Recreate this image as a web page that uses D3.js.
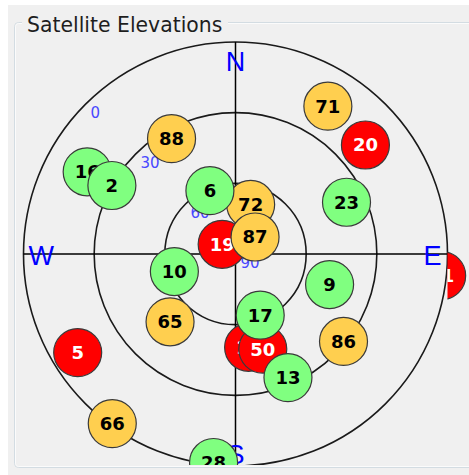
<!DOCTYPE html>
<html>
<head>
<meta charset="utf-8">
<script src="https://cdn.jsdelivr.net/npm/d3@7/dist/d3.min.js"></script>
<style>
  body { margin: 0; background: #fff; }
  svg { display: block; }
</style>
</head>
<body>
<div id="chart"></div>
<script>
// satellites, in drawing order (later ones sit on top)
const labels     = ['16', '2', '88', '71', '20', '23', '72', '6', '19', '87', '10', '65', '5', '66', '28', '9', '15', '50', '17', '13', '86', '21']
const azimuths   = [299, 299, 331, 32, 50, 65, 17, 338, 306, 49, 254, 224, 238, 216, 186, 108, 172, 164, 158, 157, 129, 96]
const elevations = [18, 30, 34, 16, 18, 38, 68, 61, 83, 79, 63, 50, 11, 1, 1, 48, 50, 48, 62, 33, 31, 2]
const states     = ['used', 'used', 'weak', 'weak', 'lost', 'used', 'weak', 'used', 'lost', 'weak', 'used', 'weak', 'lost', 'weak', 'used', 'used', 'lost', 'lost', 'used', 'used', 'weak', 'lost']

const rings = [0, 30, 60, 90]
const compass = ['N', 'E', 'S', 'W']
const title = 'Satellite Elevations'

const fills = {used: '#80ff80', weak: '#ffcf4f', lost: '#ff0000'}
const inks = {used: '#000', weak: '#000', lost: '#fff'}

const width = 469
const height = 475
const cx = 235.5
const cy = 254
const R = 212
const dot = 24

const svg = d3.select('#chart').append('svg')
  .attr('width', width)
  .attr('height', height)

// window panel + group box
svg.append('rect')
  .attr('x', 8).attr('y', 5)
  .attr('width', width - 8).attr('height', height - 5)
  .attr('fill', '#f0f0f0')

svg.append('rect')
  .attr('x', 14.5).attr('y', 22.5)
  .attr('width', width).attr('height', 445)
  .attr('rx', 4)
  .attr('fill', 'none')
  .attr('stroke', '#d3dce2')
svg.append('rect')
  .attr('x', 15.5).attr('y', 23.5)
  .attr('width', width).attr('height', 443)
  .attr('rx', 3)
  .attr('fill', 'none')
  .attr('stroke', '#fbfbfb')

svg.append('rect')
  .attr('x', 22).attr('y', 12)
  .attr('width', 206).attr('height', 22)
  .attr('fill', '#f0f0f0')
svg.append('text')
  .attr('x', 27).attr('y', 32)
  .attr('font-family', 'DejaVu Sans, sans-serif')
  .attr('font-size', 20.4)
  .attr('fill', '#1e1e1e')
  .text(title)

const defs = svg.append('defs')
defs.append('clipPath').attr('id', 'inner')
  .append('rect')
  .attr('x', 16).attr('y', 24)
  .attr('width', width - 16).attr('height', 465 - 24)
defs.append('clipPath').attr('id', 'east')
  .append('rect')
  .attr('x', cx + R).attr('y', 0)
  .attr('width', width).attr('height', height)

const plot = svg.append('g').attr('clip-path', 'url(#inner)')

const r = d3.scaleLinear().domain([90, 0]).range([0, R])
const angle = d3.scaleLinear().domain([0, 360]).range([0, 2 * Math.PI])
const px = (az, el) => cx + r(el) * Math.sin(angle(az))
const py = (az, el) => cy - r(el) * Math.cos(angle(az))

// rings
plot.selectAll('circle.ring')
  .data(rings.filter(d => d < 90))
  .join('circle')
  .attr('class', 'ring')
  .attr('cx', cx).attr('cy', cy)
  .attr('r', d => r(d))
  .attr('fill', 'none')
  .attr('stroke', '#1a1a1a')
  .attr('stroke-width', 1.6)

// cross hairs
plot.append('line')
  .attr('x1', cx - r(0)).attr('x2', cx + r(0))
  .attr('y1', cy).attr('y2', cy)
  .attr('stroke', '#000').attr('stroke-width', 1.5)
plot.append('line')
  .attr('x1', cx).attr('x2', cx)
  .attr('y1', cy - r(0)).attr('y2', cy + r(0))
  .attr('stroke', '#000').attr('stroke-width', 1.5)

// ring labels along the north-west diagonal
plot.selectAll('text.ring')
  .data(rings)
  .join('text')
  .attr('class', 'ring')
  .attr('x', d => px(315, d) + 5)
  .attr('y', d => py(315, d) + 14)
  .attr('font-family', 'DejaVu Sans, sans-serif')
  .attr('font-size', 15)
  .attr('fill', '#4848ff')
  .text(d => d)

// compass letters
const place = {
  N: {anchor: 'middle', dx: 0, dy: 29},
  S: {anchor: 'middle', dx: 0, dy: -2},
  E: {anchor: 'end', dx: -6, dy: 11},
  W: {anchor: 'start', dx: 5, dy: 11}
}
plot.selectAll('text.compass')
  .data(compass)
  .join('text')
  .attr('class', 'compass')
  .attr('x', (d, i) => px(i * 90, 0) + place[d].dx)
  .attr('y', (d, i) => py(i * 90, 0) + place[d].dy)
  .attr('text-anchor', d => place[d].anchor)
  .attr('font-family', 'Liberation Sans, Arial, sans-serif')
  .attr('font-size', 27)
  .attr('fill', '#0000ff')
  .text(d => d)

// satellites
const sats = labels.map((label, i) => ({
  label,
  az: azimuths[i],
  el: elevations[i],
  state: states[i]
}))

const sat = plot.selectAll('g.sat')
  .data(sats)
  .join('g')
  .attr('class', 'sat')
  .attr('transform', d => `translate(${px(d.az, d.el)},${py(d.az, d.el)})`)

// the one sitting on the east edge only shows outside the horizon
const eastClip = plot.append('g').attr('clip-path', 'url(#east)')
sat.filter(d => px(d.az, d.el) > cx + R * 0.95).each(function () {
  eastClip.node().appendChild(this)
})

sat.append('circle')
  .attr('r', dot)
  .attr('fill', d => fills[d.state])
  .attr('stroke', '#3a3a3a')
  .attr('stroke-width', 1.2)

sat.append('text')
  .attr('text-anchor', 'middle')
  .attr('dy', '0.36em')
  .attr('font-family', 'DejaVu Sans, sans-serif')
  .attr('font-weight', 'bold')
  .attr('font-size', 18)
  .attr('fill', d => inks[d.state])
  .text(d => d.label)
</script>
</body>
</html>
